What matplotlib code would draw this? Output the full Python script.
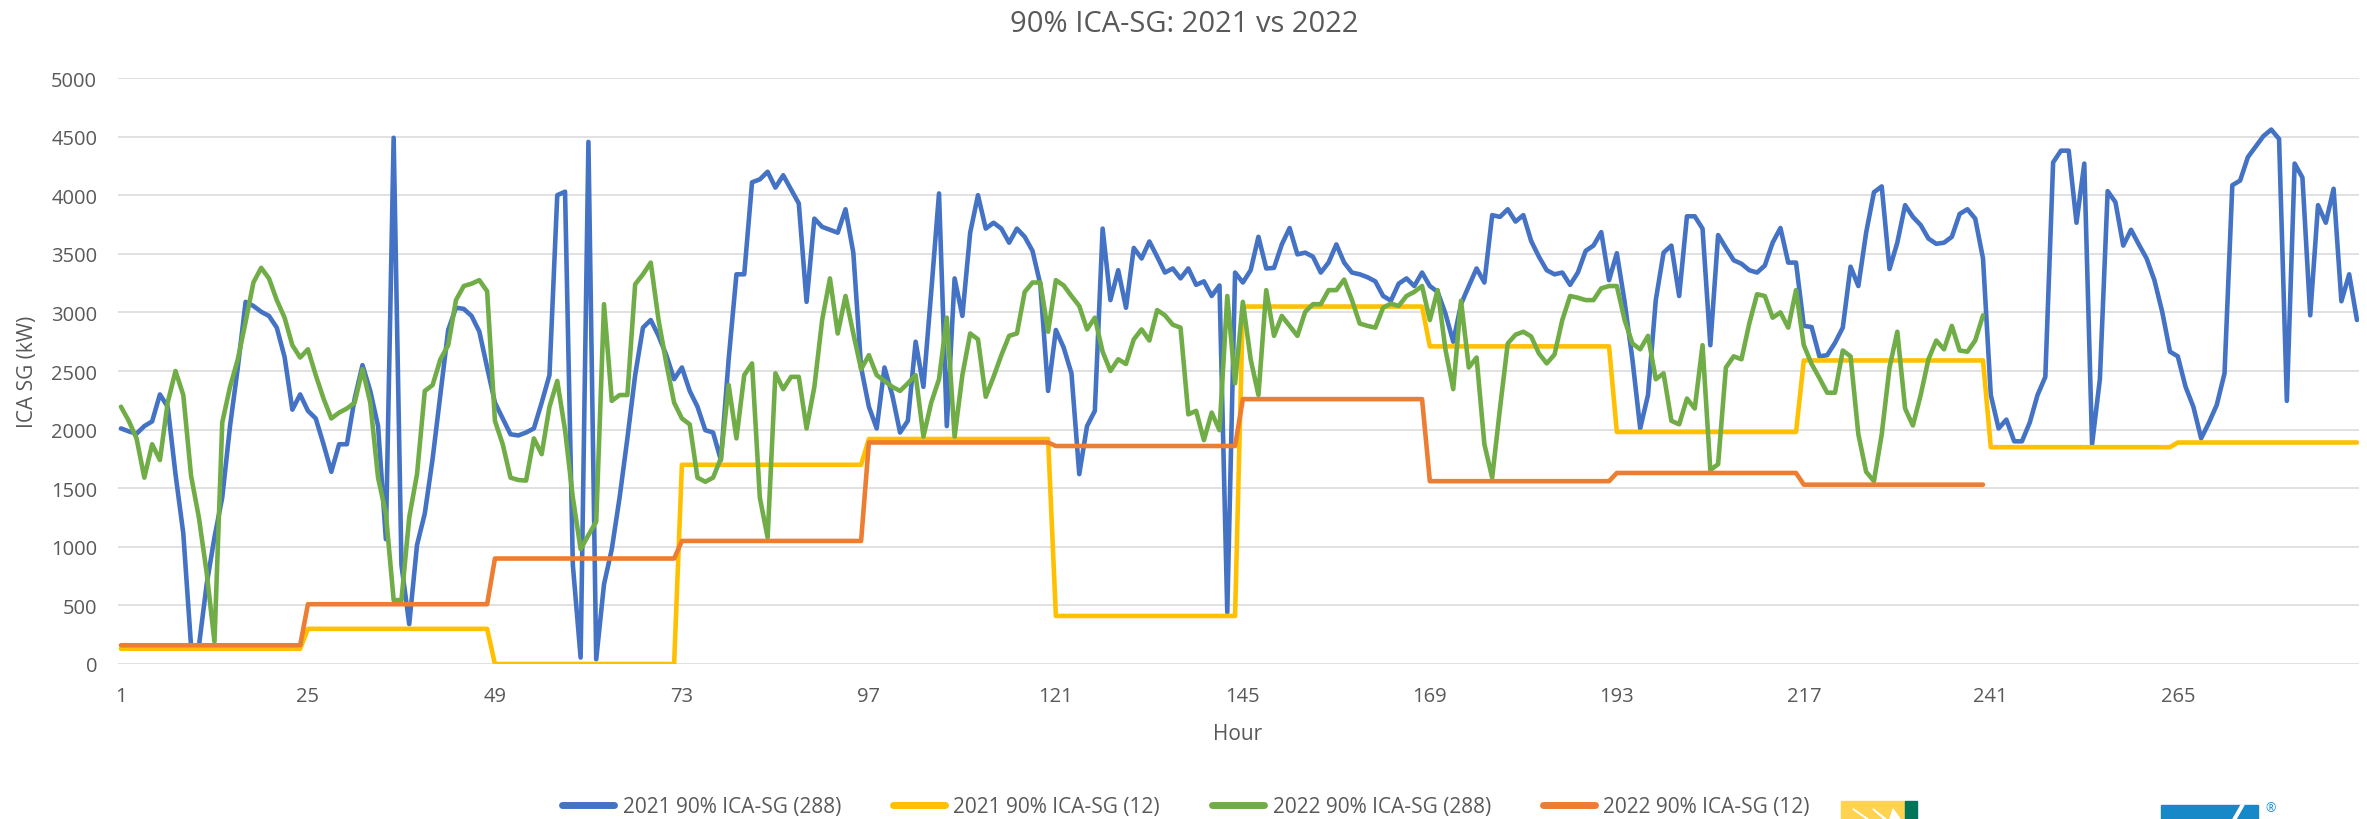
import numpy as np
import matplotlib
matplotlib.use("Agg")
import matplotlib.pyplot as plt
from matplotlib.patches import Rectangle, Polygon

plt.rcParams['font.family'] = ['Open Sans', 'DejaVu Sans']

# hourly 90% ICA-SG, 2021 (288 hours)
ica_2021 = [
    2010, 1985, 1965, 2030, 2070, 2300, 2195, 1620, 1115, 150, 150, 680,
    1080, 1420, 2030, 2530, 3090, 3055, 3005, 2970, 2870, 2620, 2170, 2300,
    2160, 2095, 1875, 1640, 1875, 1875, 2265, 2550, 2330, 2030, 1065, 4490,
    845, 340, 1015, 1285, 1750, 2300, 2850, 3040, 3030, 2970, 2836, 2530,
    2230, 2095, 1960, 1950, 1975, 2010, 2230, 2465, 4000, 4030, 845, 55,
    4455, 40, 680, 980, 1420, 1925, 2465, 2870, 2935, 2800, 2635, 2430,
    2530, 2330, 2195, 1995, 1975, 1740, 2600, 3325, 3325, 4110, 4135, 4200,
    4065, 4170, 4050, 3930, 3090, 3800, 3730, 3705, 3680, 3880, 3510, 2530,
    2195, 2010, 2530, 2295, 1975, 2075, 2750, 2365, 3175, 4015, 2030, 3290,
    2970, 3680, 4000, 3715, 3765, 3715, 3595, 3715, 3645, 3525, 3240, 2330,
    2850, 2700, 2480, 1620, 2030, 2160, 3715, 3105, 3360, 3040, 3550, 3460,
    3605, 3475, 3340, 3375, 3290, 3375, 3235, 3265, 3140, 3230, 440, 3340,
    3255, 3360, 3645, 3375, 3380, 3580, 3720, 3495, 3510, 3475, 3340, 3425,
    3580, 3425, 3340, 3325, 3300, 3265, 3140, 3100, 3245, 3290, 3225, 3340,
    3225, 3175, 2990, 2750, 3070, 3225, 3375, 3255, 3830, 3815, 3880, 3775,
    3830, 3610, 3475, 3360, 3325, 3340, 3235, 3340, 3525, 3570, 3685, 3275,
    3505, 3090, 2600, 2010, 2295, 3105, 3510, 3570, 3140, 3820, 3820, 3715,
    2720, 3660, 3550, 3445, 3415, 3360, 3340, 3400, 3595, 3720, 3425, 3425,
    2885, 2875, 2625, 2635, 2740, 2870, 3390, 3225, 3680, 4025, 4075, 3370,
    3595, 3915, 3815, 3745, 3630, 3585, 3595, 3645, 3840, 3880, 3800, 3460,
    2295, 2010, 2085, 1900, 1900, 2060, 2295, 2450, 4280, 4380, 4380, 3765,
    4270, 1875, 2430, 4035, 3940, 3570, 3705, 3580, 3460, 3275, 3005, 2665,
    2625, 2365, 2195, 1925, 2060, 2210, 2480, 4085, 4125, 4325, 4415, 4505,
    4560, 4480, 2245, 4270, 4150, 2975, 3915, 3765, 4055, 3095, 3325, 2935,
]

# hourly 90% ICA-SG, 2022 (only 240 hours filled in)
ica_2022 = [
    2195, 2075, 1925, 1590, 1875, 1740, 2230, 2500, 2295, 1605, 1250, 780,
    190, 2060, 2365, 2600, 2920, 3255, 3380, 3290, 3105, 2955, 2720, 2615,
    2685, 2465, 2265, 2095, 2145, 2180, 2230, 2515, 2230, 1590, 1285, 545,
    545, 1250, 1620, 2330, 2380, 2600, 2720, 3105, 3225, 3245, 3275, 3180,
    2075, 1875, 1590, 1570, 1565, 1925, 1790, 2195, 2415, 1995, 1420, 980,
    1100, 1215, 3070, 2245, 2295, 2295, 3240, 3325, 3425, 2935, 2565, 2230,
    2095, 2045, 1590, 1555, 1590, 1755, 2380, 1925, 2465, 2565, 1420, 1080,
    2480, 2345, 2450, 2450, 2010, 2365, 2935, 3290, 2820, 3140, 2820, 2515,
    2635, 2465, 2415, 2365, 2330, 2395, 2465, 1940, 2230, 2430, 2955, 1940,
    2465, 2820, 2770, 2280, 2450, 2635, 2800, 2820, 3175, 3255, 3255, 2835,
    3275, 3230, 3140, 3055, 2855, 2955, 2665, 2500, 2600, 2560, 2770, 2855,
    2760, 3020, 2975, 2895, 2870, 2130, 2160, 1910, 2145, 1995, 3140, 2395,
    3090, 2600, 2295, 3190, 2800, 2970, 2885, 2800, 3005, 3070, 3070, 3190,
    3190, 3280, 3105, 2905, 2885, 2870, 3040, 3075, 3055, 3140, 3175, 3225,
    2935, 3190, 2685, 2345, 3100, 2530, 2615, 1875, 1590, 2180, 2735, 2810,
    2835, 2795, 2650, 2565, 2640, 2935, 3140, 3125, 3105, 3105, 3205, 3225,
    3225, 2935, 2735, 2685, 2800, 2430, 2480, 2075, 2045, 2265, 2180, 2720,
    1655, 1705, 2530, 2625, 2600, 2905, 3155, 3140, 2955, 3000, 2870, 3190,
    2720, 2560, 2440, 2315, 2315, 2675, 2625, 1960, 1640, 1560, 1960, 2530,
    2835, 2180, 2035, 2295, 2600, 2760, 2685, 2885, 2675, 2665, 2760, 2975,
]

# the "(12)" series hold one value per 24-hour block
daily_2021 = [130, 300, 0, 1700, 1920, 410, 3050, 2710, 1980, 2590, 1850, 1890]
daily_2022 = [160, 510, 900, 1050, 1890, 1860, 2260, 1560, 1630, 1530]

series_names = ['2021 90% ICA-SG (288)', '2021 90% ICA-SG (12)',
                '2022 90% ICA-SG (288)', '2022 90% ICA-SG (12)']
colors = ['#4472C4', '#FFC000', '#70AD47', '#ED7D31']
tick_hours = [1, 25, 49, 73, 97, 121, 145, 169, 193, 217, 241, 265]

step_2021 = np.repeat(daily_2021, 24)
step_2022 = np.repeat(daily_2022, 24)
hours = np.arange(1, 289)

W, H = 2367, 820
fig = plt.figure(figsize=(W / 100, H / 100), dpi=100)
ax = fig.add_axes([118 / W, 1 - 665 / H, (2359 - 118) / W, (665 - 79) / H])

txt = '#595959'
ys = [ica_2021, step_2021, ica_2022, step_2022]
for i, (y, c, name) in enumerate(zip(ys, colors, series_names)):
    ax.plot(hours[:len(y)], y, color=c, lw=3.3, label=name, zorder=3 + i,
            solid_joinstyle='round', solid_capstyle='round')

ax.set_xlim(0.62, 288.26)
ax.set_ylim(0, 5000)
ax.set_yticks(range(0, 5001, 500))
ax.set_xticks(tick_hours)
ax.grid(axis='y', color='#D9D9D9', lw=1.1)
ax.set_axisbelow(True)
for s in ax.spines.values():
    s.set_visible(False)
ax.tick_params(length=0, labelsize=14.5, labelcolor=txt)
ax.tick_params(axis='y', pad=15)
ax.tick_params(axis='x', pad=16)

fig.text(27 / W, 1 - 372 / H, 'ICA SG (kW)', rotation=90, ha='center',
         va='center', fontsize=15, color=txt)
fig.text(1238 / W, 1 - 735 / H, 'Hour', ha='center', va='center',
         fontsize=15, color=txt)
fig.text(1184 / W, 1 - 24 / H, '90% ICA-SG: 2021 vs 2022', ha='center',
         va='center', fontsize=21, color=txt)

leg = fig.legend(loc='center', bbox_to_anchor=(1186 / W, 1 - 808 / H),
                 ncol=4, frameon=False, fontsize=15, handlelength=2.5,
                 handletextpad=0.4, columnspacing=2.5)
for t in leg.get_texts():
    t.set_color(txt)
for ln in leg.get_lines():
    ln.set_linewidth(5)

# partial logos peeking in at the bottom edge
def fx(x):
    return x / W

def fy(y):
    return 1 - y / H

fig.patches.append(Rectangle((fx(1841), fy(820)), fx(1905) - fx(1841),
                             fy(802) - fy(820), transform=fig.transFigure,
                             color='#FFD24F', zorder=1))
fig.patches.append(Rectangle((fx(1905), fy(820)), fx(1917) - fx(1905),
                             fy(802) - fy(820), transform=fig.transFigure,
                             color='#00755A', zorder=1))
for (x0, x1, x2) in [(1853, 1867, 1868), (1873, 1886, 1884), (1893, 1900, 1890)]:
    fig.patches.append(Polygon([(fx(x0), fy(810)), (fx(x1), fy(820)),
                                (fx(x2), fy(820))], closed=True,
                               transform=fig.transFigure, color='white',
                               zorder=2))
fig.patches.append(Rectangle((fx(2161), fy(820)), fx(2258) - fx(2161),
                             fy(806) - fy(820), transform=fig.transFigure,
                             color='#1788C8', zorder=1))
fig.patches.append(Polygon([(fx(2233), fy(820)), (fx(2236), fy(820)),
                            (fx(2244), fy(806)), (fx(2241), fy(806))],
                           closed=True, transform=fig.transFigure,
                           color='white', zorder=2))
fig.text(fx(2271), fy(809), '®', ha='center', va='center', fontsize=9,
         color='#1788C8')

fig.savefig('out.png', dpi=100, facecolor='white')
